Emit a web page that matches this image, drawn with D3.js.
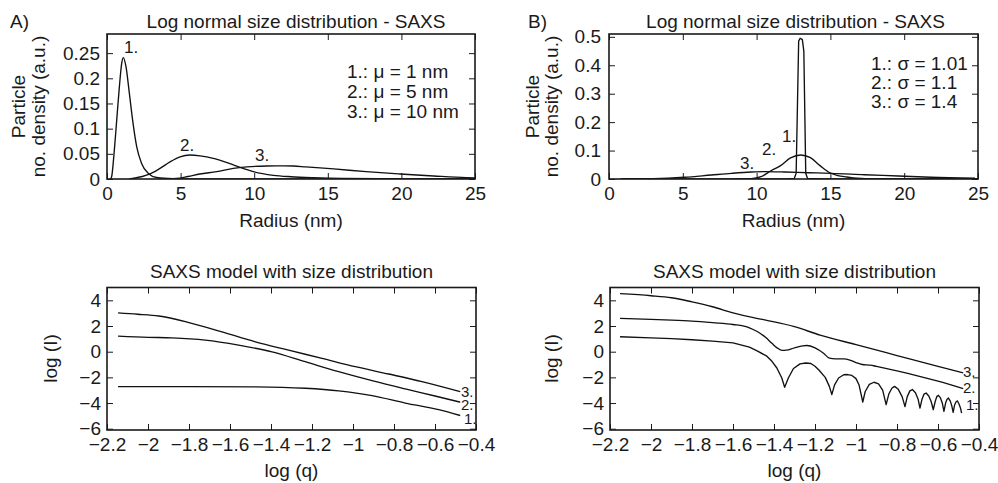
<!DOCTYPE html>
<html><head><meta charset="utf-8">
<script src="https://cdn.jsdelivr.net/npm/d3@7"></script>
<style>
body{margin:0;background:#fff}
svg{display:block}
text{font-family:"Liberation Sans",Arial,Helvetica,sans-serif;fill:#1a1a1a}
</style>
</head><body>
<svg id="c" width="998" height="483"></svg>
<script>
// ---------- tick values / labels ----------
const radiusTicks = [0, 5, 10, 15, 20, 25];
const radiusTickLabels = ["0", "5", "10", "15", "20", "25"];
const densATicks = [0, 0.05, 0.1, 0.15, 0.2, 0.25];
const densATickLabels = ["0", "0.05", "0.1", "0.15", "0.2", "0.25"];
const densBTicks = [0, 0.1, 0.2, 0.3, 0.4, 0.5];
const densBTickLabels = ["0", "0.1", "0.2", "0.3", "0.4", "0.5"];
const logqTicks = [-2.2, -2, -1.8, -1.6, -1.4, -1.2, -1, -0.8, -0.6, -0.4];
const logqTickLabels = ["\u22122.2", "\u22122", "\u22121.8", "\u22121.6", "\u22121.4", "\u22121.2", "\u22121", "\u22120.8", "\u22120.6", "\u22120.4"];
const logITicks = [4, 2, 0, -2, -4, -6];
const logITickLabels = ["4", "2", "0", "\u22122", "\u22124", "\u22126"];

// ---------- Panel A (top): size distributions, mu = 1, 5, 10 nm ----------
const aR1 = [0.25, 0.32, 0.48, 0.66, 0.84, 1.0, 1.11, 1.29, 1.52, 1.74, 2.02, 2.35, 2.81, 3.37, 4.5, 6, 25];
const aD1 = [0, 0.005, 0.051, 0.117, 0.183, 0.23, 0.241, 0.223, 0.170, 0.117, 0.064, 0.031, 0.011, 0.003, 0.0006, 0, 0];
const aR2 = [1.5, 1.9, 2.4, 2.92, 3.6, 4.28, 4.96, 5.64, 6.32, 7.22, 8.0, 8.58, 9.0, 9.94, 11.3, 12.5, 14, 16, 20, 25];
const aD2 = [0, 0.002, 0.005, 0.010, 0.021, 0.034, 0.044, 0.0476, 0.046, 0.041, 0.034, 0.028, 0.0235, 0.0145, 0.0073, 0.0045, 0.0025, 0.001, 0.0003, 0];
const aR3 = [3.5, 4.7, 5.5, 6.3, 7.45, 8.58, 9.5, 10.85, 12.0, 12.66, 13.5, 15.4, 17.6, 19.9, 22.2, 24.4, 25];
const aD3 = [0, 0.001, 0.005, 0.010, 0.0145, 0.021, 0.024, 0.0258, 0.026, 0.0258, 0.024, 0.020, 0.0145, 0.010, 0.006, 0.0026, 0.002];

// ---------- Panel B (top): size distributions, sigma = 1.01, 1.1, 1.4 ----------
const bR1 = [0.8, 12.0, 12.55, 12.68, 12.85, 12.95, 13.1, 13.2, 13.33, 13.45, 14.5, 25];
const bD1 = [0, 0, 0.002, 0.02, 0.485, 0.495, 0.49, 0.45, 0.02, 0.002, 0, 0];
const bR2 = [8.5, 9.64, 10.3, 11.0, 11.6, 12.3, 12.98, 13.65, 14.3, 14.97, 15.5, 16.1, 16.8, 18, 25];
const bD2 = [0, 0.001, 0.008, 0.03, 0.046, 0.074, 0.0845, 0.075, 0.047, 0.022, 0.012, 0.007, 0.0025, 0.0005, 0];
const bR3 = [0.8, 3, 5.13, 6.93, 8.29, 9.64, 10.55, 11.9, 13.5, 15.06, 17.3, 19.6, 21.8, 24.8];
const bD3 = [0, 0.001, 0.006, 0.014, 0.020, 0.0246, 0.026, 0.0246, 0.022, 0.020, 0.015, 0.0106, 0.006, 0.0025];

// ---------- Panel A (bottom): SAXS curves ----------
const aQ1 = [-2.146, -1.8, -1.476, -1.233, -1.07, -0.907, -0.745, -0.582, -0.477];
const aI1 = [-2.72, -2.72, -2.74, -2.85, -3.05, -3.42, -4.0, -4.52, -4.97];
const aQ2 = [-2.146, -2.0, -1.883, -1.72, -1.558, -1.395, -1.233, -1.07, -0.907, -0.745, -0.6, -0.477];
const aI2 = [1.21, 1.12, 1.08, 0.90, 0.51, -0.01, -0.78, -1.56, -2.26, -2.9, -3.45, -3.93];
const aQ3 = [-2.146, -2.05, -1.948, -1.8, -1.639, -1.476, -1.314, -1.151, -0.989, -0.826, -0.664, -0.477];
const aI3 = [3.02, 2.92, 2.78, 2.27, 1.54, 0.77, 0.12, -0.52, -1.17, -1.74, -2.33, -3.11];

// ---------- Panel B (bottom): SAXS curves ----------
const bQ1 = [-2.151, -2.0, -1.9, -1.8, -1.7, -1.6, -1.52, -1.48, -1.435, -1.41, -1.386, -1.362, -1.348,
  -1.33, -1.305, -1.273, -1.245, -1.22, -1.2, -1.18, -1.15, -1.13, -1.118,
  -1.105, -1.085, -1.06, -1.042, -1.02, -1.0, -0.985, -0.967,
  -0.955, -0.935, -0.912, -0.89, -0.87, -0.853,
  -0.84, -0.825, -0.812, -0.795, -0.775, -0.761,
  -0.75, -0.737, -0.725, -0.71, -0.697, -0.688,
  -0.678, -0.668, -0.658, -0.645, -0.633, -0.623,
  -0.614, -0.606, -0.598, -0.588, -0.579, -0.571,
  -0.563, -0.556, -0.549, -0.54, -0.533, -0.526,
  -0.519, -0.511, -0.505, -0.497, -0.49, -0.485];
const bI1 = [1.16, 1.08, 1.02, 0.93, 0.82, 0.69, 0.35, 0.05, -0.35, -0.75, -1.27, -2.05, -2.77,
  -2.05, -1.31, -0.95, -0.88, -0.92, -1.13, -1.45, -2.0, -2.7, -3.34,
  -2.6, -2.05, -1.8, -1.78, -1.85, -2.1, -2.6, -3.92,
  -3.1, -2.55, -2.38, -2.5, -3.0, -4.13,
  -3.3, -2.85, -2.70, -2.9, -3.5, -4.28,
  -3.5, -3.05, -2.95, -3.2, -3.7, -4.39,
  -3.7, -3.3, -3.22, -3.45, -3.9, -4.52,
  -3.9, -3.5, -3.40, -3.6, -4.0, -4.65,
  -4.0, -3.7, -3.61, -3.85, -4.2, -4.73,
  -4.15, -3.88, -3.84, -4.1, -4.4, -4.78];
const bQ2 = [-2.151, -2.0, -1.9, -1.8, -1.7, -1.6, -1.52, -1.48, -1.44, -1.41, -1.385, -1.36, -1.34, -1.3, -1.26, -1.24,
  -1.2, -1.16, -1.13, -1.1, -1.06, -1.03, -1.0, -0.97, -0.93, -0.9, -0.8, -0.7, -0.6, -0.477];
const bI2 = [2.59, 2.52, 2.46, 2.38, 2.26, 2.12, 1.86, 1.55, 1.1, 0.65, 0.3, 0.1, 0.12, 0.3, 0.45, 0.48,
  0.3, -0.1, -0.5, -0.56, -0.56, -0.65, -0.85, -1.0, -1.05, -1.15, -1.5, -1.88, -2.3, -2.88];
const bQ3 = [-2.151, -2.0, -1.9, -1.8, -1.7, -1.6, -1.5, -1.435, -1.3, -1.175, -1.0, -0.8, -0.6, -0.477];
const bI3 = [4.52, 4.36, 4.2, 3.88, 3.5, 3.03, 2.65, 2.44, 1.95, 1.29, 0.55, -0.3, -1.15, -1.65];

// ---------- text ----------
const topTitle = "Log normal size distribution - SAXS";
const bottomTitle = "SAXS model with size distribution";
const legendA = ["1.: \u03bc = 1 nm", "2.: \u03bc = 5 nm", "3.: \u03bc = 10 nm"];
const legendB = ["1.: \u03c3 = 1.01", "2.: \u03c3 = 1.1", "3.: \u03c3 = 1.4"];
const curveNames = ["1.", "2.", "3."];

// =====================================================================
const FONT = '"Liberation Sans", Arial, Helvetica, sans-serif';
const FS = 19;
const svg = d3.select("#c");

const zip = (xs, ys) => xs.map((x, i) => [x, ys[i]]);

const panels = [
  { box: [107, 34, 475, 179], xd: [0, 25], yd: [0, 0.288],
    xt: radiusTicks, xl: radiusTickLabels, yt: densATicks, yl: densATickLabels,
    ypad: 7, xpad: 8,
    series: [[zip(aR1, aD1), d3.curveMonotoneX], [zip(aR2, aD2), d3.curveMonotoneX], [zip(aR3, aD3), d3.curveMonotoneX]],
    labels: [[124, 53], [180, 151], [255, 161]], labelFS: 17 },
  { box: [609, 34, 978, 179], xd: [0, 25], yd: [0, 0.51],
    xt: radiusTicks, xl: radiusTickLabels, yt: densBTicks, yl: densBTickLabels,
    ypad: 8, xpad: 8,
    series: [[zip(bR1, bD1), d3.curveLinear], [zip(bR2, bD2), d3.curveMonotoneX], [zip(bR3, bD3), d3.curveMonotoneX]],
    labels: [[782, 141.5], [762, 155], [740, 169]], labelFS: 17 },
  { box: [107, 287.5, 476, 430], xd: [-2.2, -0.4], yd: [-6.1, 5],
    xt: logqTicks, xl: logqTickLabels, yt: logITicks, yl: logITickLabels,
    ypad: 6, xpad: 8,
    series: [[zip(aQ1, aI1), d3.curveMonotoneX], [zip(aQ2, aI2), d3.curveMonotoneX], [zip(aQ3, aI3), d3.curveMonotoneX]],
    labels: [[464, 424], [461, 410], [461, 396.5]], labelFS: 15 },
  { box: [610, 287.5, 979, 430], xd: [-2.2, -0.4], yd: [-6.1, 5],
    xt: logqTicks, xl: logqTickLabels, yt: logITicks, yl: logITickLabels,
    ypad: 6, xpad: 8,
    series: [[zip(bQ1, bI1), d3.curveLinear], [zip(bQ2, bI2), d3.curveMonotoneX], [zip(bQ3, bI3), d3.curveMonotoneX]],
    labels: [[966, 410], [963, 392.5], [963, 377]], labelFS: 15 }
];

function styleAxis(g) {
  g.attr("font-size", FS).attr("font-family", FONT).attr("color", "#1a1a1a");
  g.select(".domain").remove();
  g.selectAll(".tick line").attr("stroke", "#1a1a1a").attr("stroke-width", 1);
}

panels.forEach((p, pi) => {
  const [l, t, r, b] = p.box;
  const x = d3.scaleLinear().domain(p.xd).range([l, r]);
  const y = d3.scaleLinear().domain(p.yd).range([b, t]);
  const g = svg.append("g");

  const clipId = "clip" + pi;
  g.append("clipPath").attr("id", clipId)
    .append("rect").attr("x", l).attr("y", t).attr("width", r - l).attr("height", b - t);

  // axes (inward ticks, MATLAB box style)
  g.append("g").attr("transform", `translate(0,${b})`)
    .call(d3.axisBottom(x).tickValues(p.xt).tickFormat((d, i) => p.xl[i]).tickSizeInner(-6).tickSizeOuter(0).tickPadding(p.xpad))
    .call(styleAxis);
  g.append("g").attr("transform", `translate(0,${t})`)
    .call(d3.axisTop(x).tickValues(p.xt).tickFormat("").tickSizeInner(-6).tickSizeOuter(0))
    .call(styleAxis);
  g.append("g").attr("transform", `translate(${l},0)`)
    .call(d3.axisLeft(y).tickValues(p.yt).tickFormat((d, i) => p.yl[i]).tickSizeInner(-6).tickSizeOuter(0).tickPadding(p.ypad))
    .call(styleAxis);
  g.append("g").attr("transform", `translate(${r},0)`)
    .call(d3.axisRight(y).tickValues(p.yt).tickFormat("").tickSizeInner(-6).tickSizeOuter(0))
    .call(styleAxis);

  // curves
  const lg = g.append("g").attr("clip-path", `url(#${clipId})`);
  p.series.forEach(([pts, curve]) => {
    lg.append("path")
      .attr("d", d3.line().x(d => x(d[0])).y(d => y(d[1])).curve(curve)(pts))
      .attr("fill", "none").attr("stroke", "#111").attr("stroke-width", 1.35)
      .attr("stroke-linejoin", "round");
  });

  // frame
  g.append("rect").attr("x", l).attr("y", t).attr("width", r - l).attr("height", b - t)
    .attr("fill", "none").attr("stroke", "#1a1a1a").attr("stroke-width", 1.6);

  // curve labels
  p.labels.forEach(([lx, ly], i) => {
    g.append("text").attr("x", lx).attr("y", ly).attr("font-size", p.labelFS).text(curveNames[i]);
  });
});

function txt(xp, yp, s, opts = {}) {
  const t = svg.append("text").attr("x", xp).attr("y", yp).attr("font-size", opts.fs || FS)
    .attr("text-anchor", opts.anchor || "start").text(s);
  if (opts.rot) t.attr("transform", `rotate(-90,${xp},${yp})`);
  return t;
}

// titles
txt(296, 28.3, topTitle, { anchor: "middle" });
txt(795.5, 28.3, topTitle, { anchor: "middle" });
txt(291.5, 278.3, bottomTitle, { anchor: "middle" });
txt(794.5, 278.3, bottomTitle, { anchor: "middle" });
txt(10, 28, "A)");
txt(528, 28, "B)");

// axis labels
txt(291, 226.5, "Radius (nm)", { anchor: "middle" });
txt(793.5, 226.5, "Radius (nm)", { anchor: "middle" });
txt(291.5, 477, "log (q)", { anchor: "middle" });
txt(794.5, 477, "log (q)", { anchor: "middle" });
txt(25, 106.5, "Particle", { anchor: "middle", rot: true });
txt(45, 106.5, "no. density (a.u.)", { anchor: "middle", rot: true });
txt(539, 106.5, "Particle", { anchor: "middle", rot: true });
txt(558, 106.5, "no. density (a.u.)", { anchor: "middle", rot: true });
txt(56.5, 358.5, "log (I)", { anchor: "middle", rot: true });
txt(557.5, 358.5, "log (I)", { anchor: "middle", rot: true });

// legends
legendA.forEach((s, i) => txt(347, 77.5 + i * 20, s));
legendB.forEach((s, i) => txt(871, 69.5 + i * 19, s));
</script>
</body></html>
